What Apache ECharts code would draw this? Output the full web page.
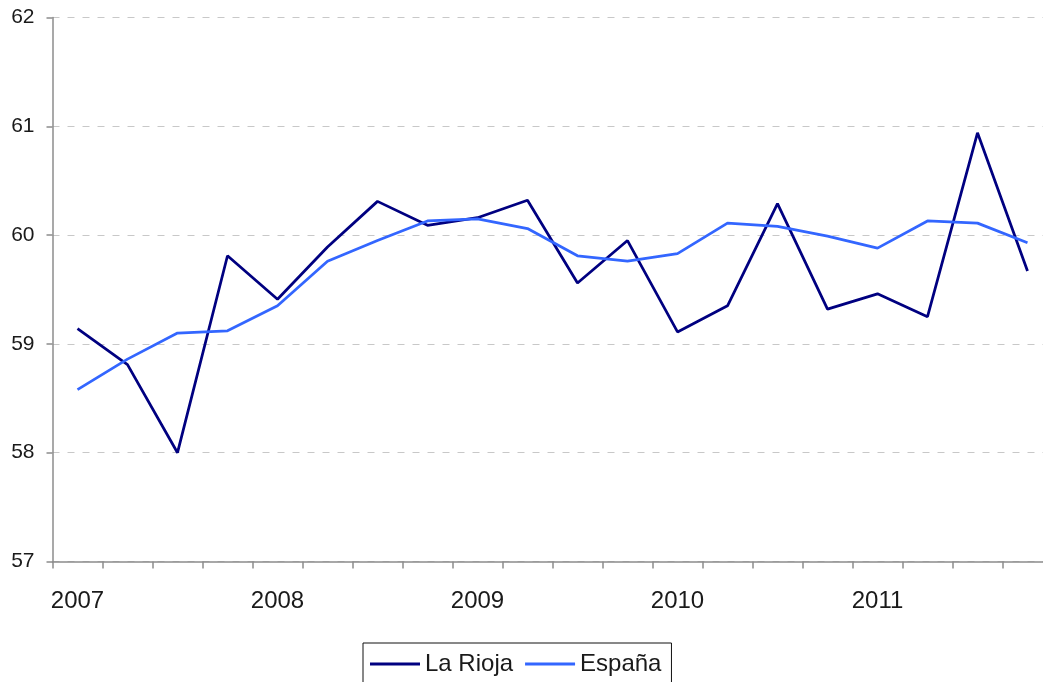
<!DOCTYPE html>
<html>
<head>
<meta charset="utf-8">
<script src="https://cdn.jsdelivr.net/npm/echarts@6/dist/echarts.min.js"></script>
<style>
  html, body { margin: 0; padding: 0; background: #fff; overflow: hidden; }
  #chart { width: 1043px; height: 682px; }
</style>
</head>
<body>
<div id="chart"></div>
<script>
// trimestres 2007-2011
var quarters = [
    '2007 T1', '2007 T2', '2007 T3', '2007 T4',
    '2008 T1', '2008 T2', '2008 T3', '2008 T4',
    '2009 T1', '2009 T2', '2009 T3', '2009 T4',
    '2010 T1', '2010 T2', '2010 T3', '2010 T4',
    '2011 T1', '2011 T2', '2011 T3', '2011 T4'
];
var laRioja = [59.14, 58.81, 58.00, 59.81, 59.41, 59.89, 60.31, 60.09, 60.16, 60.32,
               59.56, 59.95, 59.11, 59.35, 60.29, 59.32, 59.46, 59.25, 60.94, 59.67];
var espana = [58.58, 58.86, 59.10, 59.12, 59.35, 59.76, 59.95, 60.13, 60.15, 60.06,
              59.81, 59.76, 59.83, 60.11, 60.08, 59.99, 59.88, 60.13, 60.11, 59.93];
var yTicks = {min: 57, max: 62, step: 1};

var myChart = echarts.init(document.getElementById('chart'));
myChart.setOption({
    animation: false,
    backgroundColor: '#fff',
    textStyle: {fontFamily: '"Liberation Sans", Arial, sans-serif'},
    grid: {
        left: 52.5,
        right: -9.5,
        top: 17.5,
        bottom: 120.5,
        containLabel: false,
        outerBoundsMode: 'none'
    },
    legend: {
        left: 363,
        top: 643,
        padding: [9, 10, 12, 7],
        itemGap: 12,
        itemWidth: 50,
        itemHeight: 3,
        icon: 'rect',
        borderColor: '#111',
        borderWidth: 1,
        backgroundColor: '#fff',
        textStyle: {fontSize: 24, color: '#1a1a1a', padding: [0, 0, 0, 0]},
        data: ['La Rioja', 'España']
    },
    xAxis: {
        type: 'category',
        data: quarters,
        boundaryGap: true,
        axisLine: {lineStyle: {color: '#8c8c8c', width: 1.5}},
        axisTick: {show: true, length: 7, interval: 0, lineStyle: {color: '#8c8c8c', width: 1.5}},
        axisLabel: {
            interval: 3,
            margin: 28,
            fontSize: 24,
            color: '#1a1a1a',
            formatter: function (v) { return v.slice(0, 4); }
        },
        splitLine: {show: false}
    },
    yAxis: {
        type: 'value',
        min: yTicks.min,
        max: yTicks.max,
        interval: yTicks.step,
        axisLine: {show: true, lineStyle: {color: '#8c8c8c', width: 1.5}},
        axisTick: {show: true, length: 6, lineStyle: {color: '#8c8c8c', width: 1.5}},
        axisLabel: {fontSize: 21, color: '#1a1a1a', margin: 18},
        splitLine: {show: true, lineStyle: {color: '#c8c8c8', width: 1, type: [7, 8]}}
    },
    series: [
        {
            name: 'La Rioja',
            type: 'line',
            data: laRioja,
            symbol: 'none',
            color: '#000080',
            lineStyle: {width: 2.75, color: '#000080'}
        },
        {
            name: 'España',
            type: 'line',
            data: espana,
            symbol: 'none',
            color: '#3366ff',
            lineStyle: {width: 2.75, color: '#3366ff'}
        }
    ]
});
</script>
</body>
</html>
